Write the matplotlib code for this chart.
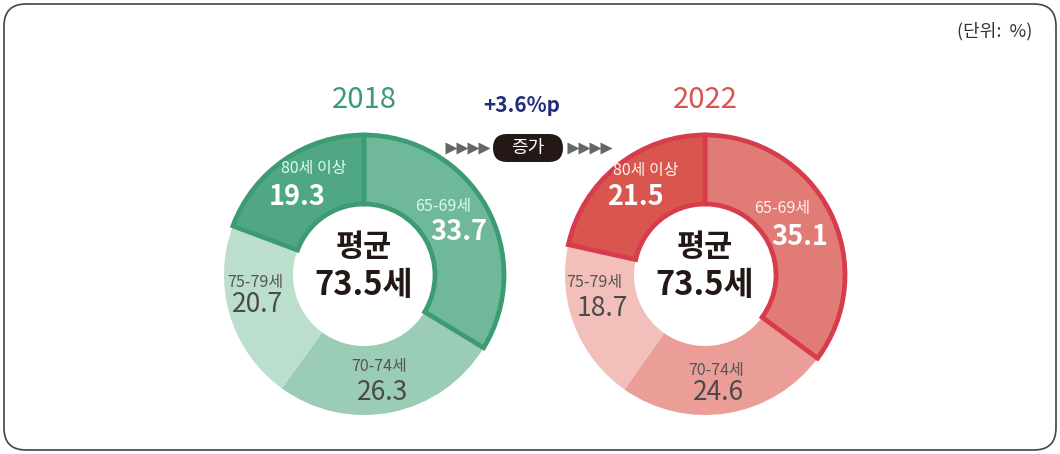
import matplotlib.pyplot as plt
from matplotlib.patches import FancyBboxPatch

plt.rcParams['font.family'] = ['Noto Sans CJK KR', 'DejaVu Sans']

# 데이터
groups = ["65-69세", "70-74세", "75-79세", "80세 이상"]
share_2018 = [33.7, 26.3, 20.7, 19.3]
share_2022 = [35.1, 24.6, 18.7, 21.5]
years = ["2018", "2022"]
avg_age = ["73.5세", "73.5세"]
change = "+3.6%p"

greens = ["#6fb99a", "#9bccb5", "#bcdecd", "#4fa883"]
reds = ["#e17b76", "#eb9d97", "#f2bfbb", "#d9564f"]
highlight = [True, False, False, True]

W, H = 1060, 454
fig = plt.figure(figsize=(W / 100, H / 100), dpi=100)
ax = fig.add_axes([0, 0, 1, 1])

# 바깥 테두리
ax.add_patch(FancyBboxPatch((4, 4), W - 8, H - 8, boxstyle="round,pad=0,rounding_size=22",
                            fc="white", ec="#444444", lw=1.2))


def Y(py):
    return H - py


def donut(cx, cy, vals, cols, edge, title, title_col, hl_text, lab_pos):
    wedges, _ = ax.pie(vals, colors=cols, center=(cx, Y(cy)), radius=140, startangle=90,
                       counterclock=False, wedgeprops=dict(width=69, lw=0),
                       frame=True)
    for w, hl in zip(wedges, highlight):
        if hl:
            w.set_edgecolor(edge)
            w.set_linewidth(3.4)
            w.set_zorder(3)
    ax.text(cx, Y(100), title, ha='center', va='center', fontsize=21, color=title_col)
    ax.text(cx, Y(247), "평균", ha='center', va='center', fontsize=22, fontweight='bold',
            color="#231815", zorder=5)
    ax.text(cx, Y(286), avg_age[0], ha='center', va='center', fontsize=23.5, fontweight='bold',
            color="#231815", zorder=5)
    for g, v, (lx, ly, nx, ny), hl in zip(groups, vals, lab_pos, highlight):
        if hl:
            ax.text(lx, Y(ly), g, ha='center', va='center', fontsize=11.5, color=hl_text,
                    zorder=5)
            ax.text(nx, Y(ny), f"{v:.1f}", ha='center', va='center', fontsize=19.5,
                    fontweight='bold', color="white", zorder=5)
        else:
            ax.text(lx, Y(ly), g, ha='center', va='center', fontsize=11.5, color="#555555",
                    zorder=5)
            ax.text(nx, Y(ny), f"{v:.1f}", ha='center', va='center', fontsize=19,
                    color="#4a4a4a", zorder=5)


donut(364, 275, share_2018, greens, "#3d9b73", years[0], "#3a9a78", "#dcfaf0",
      [(443, 207, 459, 232), (379, 367, 383, 392), (255, 283, 258, 305), (314, 168, 297, 197)])
donut(705, 275, share_2022, reds, "#d63c4b", years[1], "#d9534f", "#fff0ef",
      [(782, 208, 800, 237), (716, 370, 719, 393), (594, 282, 602, 308), (646, 170, 635, 197)])

# 가운데 증가 표시
ax.text(522, Y(106), change, ha='center', va='center', fontsize=15, fontweight='bold',
        color="#1f2d7a")
ax.add_patch(FancyBboxPatch((493, Y(162)), 70, 28, boxstyle="round,pad=0,rounding_size=14",
                            fc="#231815", ec="none"))
ax.text(528, Y(148), "증가", ha='center', va='center', fontsize=13, color="white")
for x0 in [451, 462, 473, 484, 573, 584, 595, 606]:
    ax.plot([x0], [Y(148)], marker='>', ms=9, color="#666666", mec='none')

ax.text(995, Y(31), "(단위:  %)", ha='center', va='center', fontsize=13, color="#333333")

ax.set_xlim(0, W)
ax.set_ylim(0, H)
ax.set_aspect('equal')
ax.axis('off')

fig.savefig("out.png", dpi=100)
